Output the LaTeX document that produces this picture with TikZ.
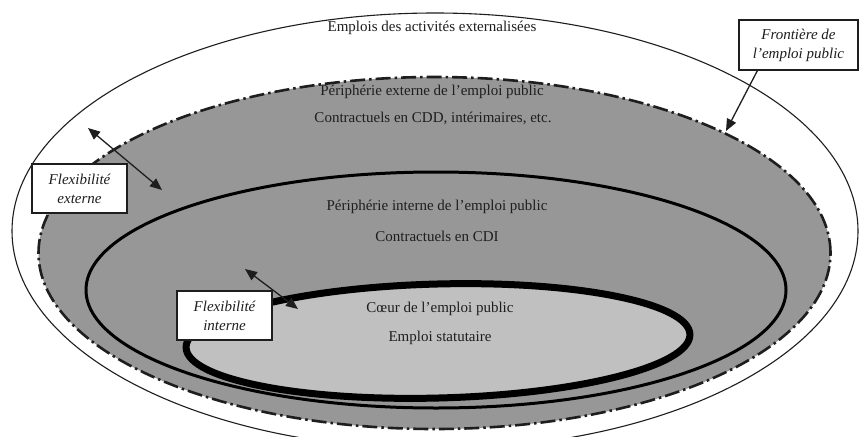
\documentclass[tikz,border=0pt]{standalone}
\usepackage{fontspec}
\setmainfont{Liberation Serif}
\usetikzlibrary{arrows.meta}
\definecolor{darkzone}{HTML}{979797}
\definecolor{corezone}{HTML}{C0C0C0}
\definecolor{ink}{HTML}{1E1E1E}
\tikzset{
  lbl/.style={font=\fontsize{15}{19}\selectfont, text=ink, inner sep=0pt},
  flexbox/.style={draw=ink, line width=1.2pt, fill=white, align=center, inner sep=0pt,
    font=\fontsize{15}{19}\selectfont\itshape, text=ink},
  arr/.style={line width=1.3pt, draw=ink, -{Triangle[length=12pt,width=10pt]}},
  dblarr/.style={line width=1.3pt, draw=ink, {Triangle[length=12pt,width=10pt]}-{Triangle[length=12pt,width=10pt]}},
  dashdotline/.style={line width=2.6pt, dash pattern=on 15pt off 4pt on 2.5pt off 4pt}
}
\begin{document}
\begin{tikzpicture}[x=1pt,y=-1pt]
\useasboundingbox (0,0) rectangle (861,436);
\clip (0,0) rectangle (861,436);
\fill[white] (0,0) rectangle (861,436);
% outer ellipse: emplois externalises
\draw[line width=1.1pt, draw=ink, fill=white] (435,231) ellipse [x radius=423pt, y radius=218pt];
% frontiere de l'emploi public (dash-dot)
\fill[darkzone] (434.5,253) ellipse [x radius=396pt, y radius=176pt];
\draw[dashdotline, draw=ink] (434.5,253) ellipse [x radius=396pt, y radius=176pt];
% peripherie interne
\draw[line width=3pt, draw=black, fill=darkzone] (436,290) ellipse [x radius=350pt, y radius=118pt];
% coeur
\draw[line width=7pt, draw=black, fill=corezone, rotate around={1.5:(438,341)}] (438,341) ellipse [x radius=252pt, y radius=57pt];
% texts
\node[lbl] (t1) at (432,28) {Emplois des activités externalisées};
\node[lbl] (t2) at (432,92) {Périphérie externe de l’emploi public};
\node[lbl] (t3) at (433,118) {Contractuels en CDD, intérimaires, etc.};
\node[lbl] (t4) at (437,207) {Périphérie interne de l’emploi public};
\node[lbl] (t5) at (437,236) {Contractuels en CDI};
\node[lbl] (t6) at (440,309) {Cœur de l’emploi public};
\node[lbl] (t7) at (440,338) {Emploi statutaire};
% arrow end points
\coordinate (fronttip) at (726,131);
\coordinate (exta) at (88,128);
\coordinate (extb) at (162,190);
\coordinate (inta) at (245,269);
\coordinate (intb) at (298,309);
% boxes
\node[flexbox, minimum width=119pt, minimum height=50pt] (front) at (798.5,45) {Frontière de\\l’emploi public};
\node[flexbox, minimum width=95pt, minimum height=49pt] (flexext) at (79.5,188.5) {Flexibilité\\externe};
% arrows
\draw[arr] (front.south west) ++(19,0) coordinate (frontstart) -- (fronttip);
\draw[dblarr] (exta) -- (extb);
\draw[dblarr] (inta) -- (intb);
\node[flexbox, minimum width=95pt, minimum height=49pt] (flexint) at (224.5,315.5) {Flexibilité\\interne};
\end{tikzpicture}
\end{document}
